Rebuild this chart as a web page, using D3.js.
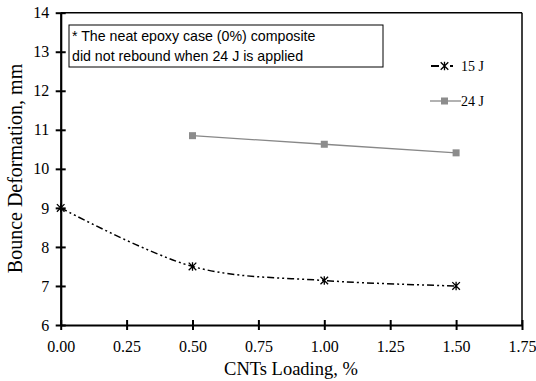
<!DOCTYPE html>
<html><head><meta charset="utf-8">
<script src="https://cdn.jsdelivr.net/npm/d3@7"></script>
<style>body{margin:0;background:#fff}svg{display:block}</style>
</head><body>
<svg id="c" width="536" height="381"></svg>
<script>
const loading15 = [0, 0.5, 1.0, 1.5];
const values15 = [9.0, 7.5, 7.14, 7.0];
const loading24 = [0.5, 1.0, 1.5];
const values24 = [10.85, 10.63, 10.41];
const xTicks = [0, 0.25, 0.5, 0.75, 1.0, 1.25, 1.5, 1.75];
const yTicks = [6, 7, 8, 9, 10, 11, 12, 13, 14];
const seriesNames = ["15 J", "24 J"];
const noteLines = ["* The neat epoxy case (0%) composite", "did not rebound when 24 J is applied"];

const svg = d3.select("#c");
const L = 60.7, R = 522, T = 12.7, B = 325;
const x = d3.scaleLinear().domain([0, 1.75]).range([L, R]);
const y = d3.scaleLinear().domain([6, 14]).range([B, T]);
const serif = "'Liberation Serif','Times New Roman',serif";
const sans = "'Liberation Sans',Arial,sans-serif";

// frame top/right
svg.append("line").attr("x1", L).attr("x2", R).attr("y1", T).attr("y2", T).attr("stroke", "#000").attr("stroke-width", 1.5);
svg.append("line").attr("x1", R).attr("x2", R).attr("y1", T).attr("y2", B).attr("stroke", "#000").attr("stroke-width", 1.5);

// axes
const xAxis = d3.axisBottom(x).tickValues(xTicks).tickFormat(d3.format(".2f")).tickSizeInner(5).tickSizeOuter(0).tickPadding(11);
const gx = svg.append("g").attr("transform", `translate(0,${B})`).call(xAxis);
gx.select(".domain").attr("stroke-width", 2.2);
gx.selectAll(".tick line").attr("y1", -5).attr("y2", 5).attr("stroke-width", 2);
gx.selectAll("text").style("font-family", serif).style("font-size", "16px").attr("fill", "#000");

const yAxis = d3.axisLeft(y).tickValues(yTicks).tickFormat(d3.format("d")).tickSizeInner(5).tickSizeOuter(0).tickPadding(6.5);
const gy = svg.append("g").attr("transform", `translate(${L},0)`).call(yAxis);
gy.select(".domain").attr("stroke-width", 2.2);
gy.selectAll(".tick line").attr("x1", -5).attr("x2", 5).attr("stroke-width", 2);
gy.selectAll("text").style("font-family", serif).style("font-size", "16px").attr("fill", "#000");

// axis titles
svg.append("text").attr("x", 291).attr("y", 375).attr("text-anchor", "middle")
  .style("font-family", serif).style("font-size", "18.5px").text("CNTs Loading, %");
svg.append("text").attr("transform", `translate(22,168.5) rotate(-90)`).attr("text-anchor", "middle")
  .style("font-family", serif).style("font-size", "20px").text("Bounce Deformation, mm");

// series 24 J
const d24 = loading24.map((v, i) => [v, values24[i]]);
svg.append("path").datum(d24).attr("fill", "none").attr("stroke", "#888").attr("stroke-width", 1.3)
  .attr("d", d3.line().x(d => x(d[0])).y(d => y(d[1])));
svg.selectAll(".m24").data(d24).enter().append("rect")
  .attr("x", d => x(d[0]) - 3.5).attr("y", d => y(d[1]) - 3.5).attr("width", 7).attr("height", 7).attr("fill", "#8c8c8c");

// series 15 J
const d15 = loading15.map((v, i) => [v, values15[i]]);
svg.append("path").datum(d15).attr("fill", "none").attr("stroke", "#000").attr("stroke-width", 1.5)
  .attr("stroke-dasharray", "7,3,2,3,2,3")
  .attr("d", d3.line().curve(d3.curveCatmullRom.alpha(0)).x(d => x(d[0])).y(d => y(d[1])));
function star(g, cx, cy) {
  const s = 3.8;
  g.append("path").attr("d", `M${cx - s},${cy - s}L${cx + s},${cy + s}M${cx - s},${cy + s}L${cx + s},${cy - s}M${cx},${cy - s - 0.5}L${cx},${cy + s + 0.5}`)
    .attr("stroke", "#000").attr("stroke-width", 1.3).attr("fill", "none");
}
d15.forEach(d => star(svg, x(d[0]), y(d[1])));

// legend
const lg = svg.append("g");
lg.append("line").attr("x1", 431).attr("x2", 439).attr("y1", 66).attr("y2", 66).attr("stroke", "#000").attr("stroke-width", 2);
lg.append("line").attr("x1", 450).attr("x2", 453).attr("y1", 66).attr("y2", 66).attr("stroke", "#000").attr("stroke-width", 2);
star(lg, 444.5, 66);
lg.append("text").attr("x", 461).attr("y", 70.5).style("font-family", serif).style("font-size", "14px").text(seriesNames[0]);
lg.append("line").attr("x1", 430).attr("x2", 461).attr("y1", 101).attr("y2", 101).attr("stroke", "#888").attr("stroke-width", 1.3);
lg.append("rect").attr("x", 441).attr("y", 97.5).attr("width", 7).attr("height", 7).attr("fill", "#8c8c8c");
lg.append("text").attr("x", 461).attr("y", 105.5).style("font-family", serif).style("font-size", "14px").text(seriesNames[1]);

// note box
svg.append("rect").attr("x", 69).attr("y", 25).attr("width", 314).attr("height", 42)
  .attr("fill", "#fff").attr("stroke", "#000").attr("stroke-width", 1);
noteLines.forEach((t, i) => {
  svg.append("text").attr("x", 72).attr("y", 40.5 + i * 20.5).style("font-family", sans).style("font-size", "14.2px").text(t);
});
</script>
</body></html>
